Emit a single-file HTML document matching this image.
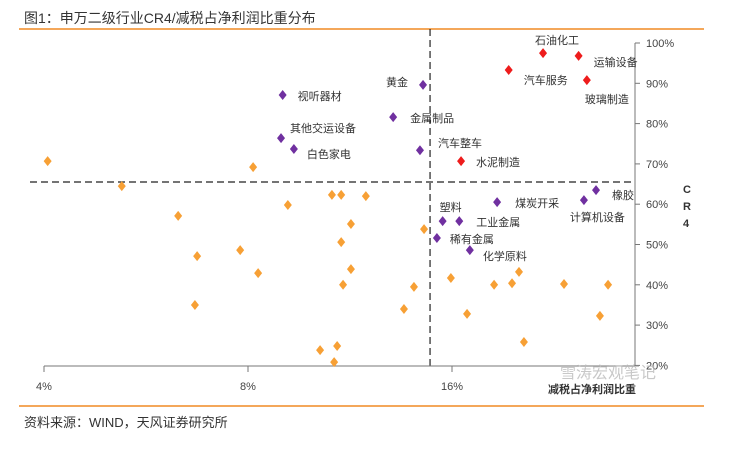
<!DOCTYPE html>
<html><head><meta charset="utf-8"><style>
body{margin:0;background:#fff;width:744px;height:454px;overflow:hidden;font-family:"Liberation Sans","Noto Sans CJK SC",sans-serif}
text{font-family:"Liberation Sans","Noto Sans CJK SC",sans-serif}
</style></head><body>
<svg id="c" width="744" height="454">
<text x="24" y="23" font-size="14" fill="#333">图1：申万二级行业CR4/减税占净利润比重分布</text>
<line x1="19" y1="29" x2="704" y2="29" stroke="#f08a24" stroke-width="1.5"/>
<line x1="19" y1="406" x2="704" y2="406" stroke="#f08a24" stroke-width="1.5"/>
<text x="24" y="427" font-size="13" fill="#333">资料来源：WIND，天风证券研究所</text>
<g id="g"></g>
</svg>
<script>
const xTicks=[4,8,16];
const yTicks=[20,30,40,50,60,70,80,90,100];
const vLine=14.85, hLine=65.5;
const orangeX=[4.05,8.14,5.21,10.64,10.98,11.94,9.16,6.31,11.35,14.55,10.98,7.79,6.73,8.28,11.35,11.05,14.06,15.94,18.46,19.62,20.09,23.41,27.19,6.68,13.59,16.84,26.45,20.43,10.22,10.83,10.72];
const orangeY=[70.7,69.2,64.5,62.3,62.3,62.0,59.8,57.1,55.1,53.8,50.6,48.6,47.1,42.9,43.9,40.0,39.5,41.7,40.0,40.4,43.2,40.2,40.0,35.0,34.0,32.8,32.3,25.8,23.8,24.8,20.8];
const redNames=["石油化工","运输设备","汽车服务","玻璃制造","水泥制造"];
const redX=[21.8,24.6,19.4,25.3,16.5];
const redY=[97.5,96.8,93.3,90.8,70.7];
const purpleNames=["黄金","视听器材","金属制品","其他交运设备","白色家电","汽车整车","橡胶","计算机设备","煤炭开采","塑料","工业金属","稀有金属","化学原料"];
const purpleX=[14.5,9.0,13.1,8.95,9.35,14.35,26.1,25.05,18.65,15.5,16.4,15.2,17.0];
const purpleY=[89.6,87.1,81.6,76.4,73.7,73.4,63.5,61.0,60.5,55.8,55.8,51.6,48.6];
// label offsets (layout, px)
const redOff=[[-8,-13],[15,6],[15,10],[-2,19],[15,1]];
const purpleOff=[[-37,-3],[15,1],[17,1],[9,-10],[13,5],[18,-7],[16,5],[-14,17],[18,1],[-3,-14],[17,1],[13,1],[13,6]];
const X=v=>44+204*Math.log2(v/4);
const Y=v=>43+(100-v)*4.03;
const ns="http://www.w3.org/2000/svg", g=document.getElementById('g');
function mk(t,a,txt){const e=document.createElementNS(ns,t);for(const k in a)e.setAttribute(k,a[k]);if(txt!=null)e.textContent=txt;g.appendChild(e);return e;}
let e;
e=mk('line',{x1:X(vLine),y1:29,x2:X(vLine),y2:366,stroke:'#222','stroke-dasharray':'7,4','stroke-width':1.2});


e=mk('line',{x1:30,y1:Y(hLine),x2:635,y2:Y(hLine),stroke:'#222','stroke-dasharray':'7,4','stroke-width':1.2});


e=mk('line',{x1:44,y1:366,x2:635,y2:366,stroke:'#777'});


e=mk('line',{x1:635,y1:43,x2:635,y2:366,stroke:'#777'});


xTicks.forEach(t=>{
 e=mk('line',{x1:X(t),y1:366,x2:X(t),y2:372,stroke:'#777'});
 
 
 e=mk('text',{x:X(t),y:390,'font-size':11,fill:'#444','text-anchor':'middle'},t+'%');
 
 
});
yTicks.forEach(t=>{
 e=mk('line',{x1:635,y1:Y(t),x2:640,y2:Y(t),stroke:'#777'});
 
 
 e=mk('text',{x:646,y:Y(t)+4,'font-size':11,fill:'#444'},t+'%');
 
 
});
['C','R','4'].forEach((c,i)=>{
 e=mk('text',{x:683,y:193+i*17,'font-size':11,'font-weight':'bold',fill:'#333'},c);
 
 
});
e=mk('text',{x:548,y:393,'font-size':11,'font-weight':'bold',fill:'#333'},'减税占净利润比重');


e=mk('text',{x:560,y:378,'font-size':16,fill:'#bbb',opacity:0.8},'雪涛宏观笔记');


function dia(x,y,c){const s=5;return mk('path',{d:`M${x} ${y-s}L${x+s*0.8} ${y}L${x} ${y+s}L${x-s*0.8} ${y}Z`,fill:c});}
orangeX.forEach((v,i)=>{
 e=dia(X(v),Y(orangeY[i]),'#f7a035');
 
 
});
redX.forEach((v,i)=>{
 const x=X(v),y=Y(redY[i]);
 e=dia(x,y,'#ee1c1c');
 
 
 e=mk('text',{x:x+redOff[i][0],y:y+redOff[i][1]+4,'font-size':11,fill:'#333'},redNames[i]);
 
 
});
purpleX.forEach((v,i)=>{
 const x=X(v),y=Y(purpleY[i]);
 e=dia(x,y,'#7030a0');
 
 
 e=mk('text',{x:x+purpleOff[i][0],y:y+purpleOff[i][1]+4,'font-size':11,fill:'#333'},purpleNames[i]);
 
 
});
</script>
</body></html>
